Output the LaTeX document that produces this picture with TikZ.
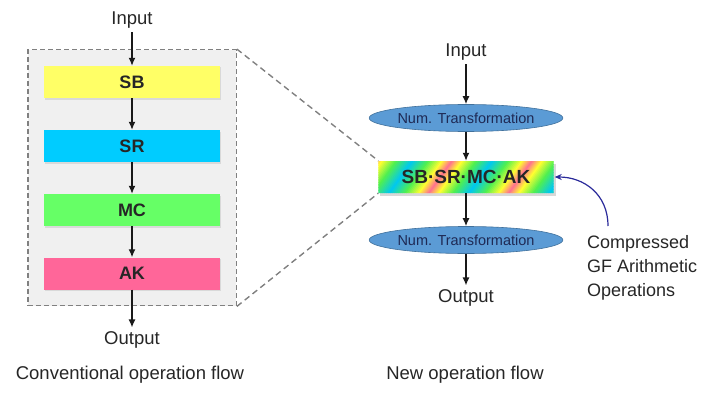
\documentclass[tikz,border=0pt]{standalone}
\usepackage{fontspec}
\setmainfont{Liberation Sans}
\usetikzlibrary{positioning,calc,arrows.meta,shapes.geometric,fit,backgrounds,shadows}

\definecolor{sbyellow}{HTML}{FFFF66}
\definecolor{srcyan}{HTML}{00CCFF}
\definecolor{mcgreen}{HTML}{66FF66}
\definecolor{akpink}{HTML}{FF6699}
\definecolor{ntfill}{HTML}{5B9BD5}
\definecolor{ntedge}{HTML}{41719C}
\definecolor{nttext}{HTML}{1F2A55}
\definecolor{notearrow}{HTML}{2A2A9A}
\definecolor{bcyan}{HTML}{00C8F0}
\definecolor{bgreen}{HTML}{50F050}
\definecolor{byellow}{HTML}{FFFF30}
\definecolor{bpink}{HTML}{FF7090}

\begin{document}
\begin{tikzpicture}[x=1pt, y=-1pt,
  txt/.style={font=\fontsize{18.5}{22}\selectfont, text=black!85, inner sep=4pt},
  stage/.style={rectangle, minimum width=176pt, minimum height=32pt, inner sep=0pt,
    font=\fontsize{18}{22}\selectfont\bfseries, text=black!85,
    drop shadow={shadow xshift=1pt, shadow yshift=-1.5pt, opacity=0.2}},
  mixbox/.style={rectangle, minimum width=175pt, minimum height=32pt, inner sep=0pt,
    font=\fontsize{19}{22}\selectfont\bfseries, text=black!85},
  numtf/.style={ellipse, minimum width=169pt, minimum height=27pt, inner sep=0pt,
    fill=ntfill, draw=ntedge, line width=0.6pt, font=\fontsize{14.5}{16}\selectfont, text=nttext},
  flow/.style={-{Latex[length=8pt,width=7pt]}, line width=1.3pt, black!90},
  zoomframe/.style={draw=gray, dash pattern=on 5pt off 3pt, line width=1.4pt, fill=black!6, inner sep=16pt},
  zoomline/.style={draw=gray, dash pattern=on 6pt off 4pt, line width=1.4pt},
  noteline/.style={-{Stealth[length=7pt,width=6pt]}, line width=1.2pt, notearrow, shorten >=1pt}]
  \useasboundingbox (0,0) rectangle (720,396);

  % conventional flow
  \node[txt] (inl) at (132,20) {Input};
  \node[stage, fill=sbyellow] (sb) at (132,82) {SB};
  \node[stage, fill=srcyan] (sr) at (132,146) {SR};
  \node[stage, fill=mcgreen] (mc) at (132,210) {MC};
  \node[stage, fill=akpink] (ak) at (132,273.5) {AK};
  \node[txt] (outl) at (132,340) {Output};
  \node[txt] (capl) at (130,375) {Conventional operation flow};
  \begin{scope}[on background layer]
    \node[zoomframe, fit=(sb)(ak)] (frame) {};
  \end{scope}

  \draw[flow] (inl) -- (sb);
  \draw[flow] (sb) -- (sr);
  \draw[flow] (sr) -- (mc);
  \draw[flow] (mc) -- (ak);
  \draw[flow] (ak) -- (outl);

  % new flow
  \node[txt] (inr) at (466,52) {Input};
  \node[numtf] (nt1) at (466,118) {Num. Transformation};
  \node[mixbox] (mix) at (466,177) {SB·SR·MC·AK};
  \node[numtf] (nt2) at (466,240) {Num. Transformation};
  \node[txt] (outr) at (466,298) {Output};
  \node[txt] (capr) at (465,375) {New operation flow};
  \node[txt, anchor=north west, align=left, font=\fontsize{18}{24}\selectfont] (gf) at (583,231)
    {Compressed\\GF Arithmetic\\Operations};

  % rainbow bands behind the merged step
  \begin{scope}[on background layer]
    \fill[black!30, opacity=0.5] ($(mix.south west)+(2,3)$) rectangle ($(mix.north east)+(2,3)$);
    \clip (mix.south west) rectangle (mix.north east);
    \begin{scope}[shift={(mix.south west)}]
      \foreach \p in {-1,...,3}{
        \foreach \cola/\colb/\off/\len in {bcyan/bgreen/0/16, bgreen/byellow/16/14, byellow/bpink/30/10,
            bpink/byellow/40/10, byellow/bgreen/50/14, bgreen/bcyan/64/16}{
          \foreach \k in {0,...,7}{
            \pgfmathsetmacro\xa{10+80*\p+\off+\len*\k/8}
            \pgfmathsetmacro\xb{\xa+\len/8+0.6}
            \pgfmathsetmacro\pct{\k*12.5}
            \fill[\colb!\pct!\cola] (\xa,0) -- (\xb,0) -- (\xb+23,-32) -- (\xa+23,-32) -- cycle;
          }}}
    \end{scope}
  \end{scope}

  \draw[flow] (inr) -- (nt1);
  \draw[flow] (nt1) -- (mix);
  \draw[flow] (mix) -- (nt2);
  \draw[flow] (nt2) -- (outr);

  \draw[zoomline] (frame.north east) -- (mix.north west);
  \draw[zoomline] (frame.south east) -- (mix.south west);

  \draw[noteline] ($(gf.north west)+(25,-5)$) .. controls +(0,-32) and +(30,0) .. (mix.east);
\end{tikzpicture}
\end{document}
